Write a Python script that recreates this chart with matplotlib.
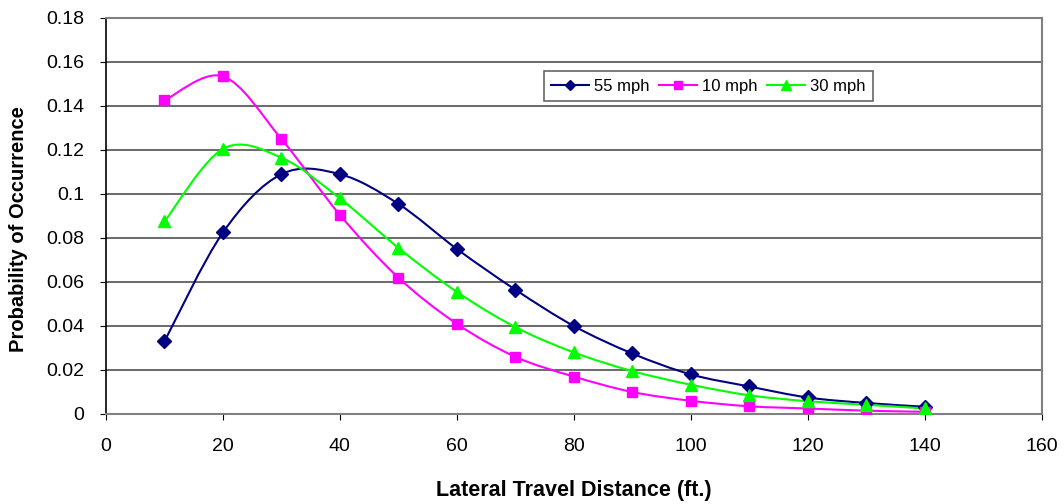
import numpy as np
import matplotlib.pyplot as plt
from matplotlib.path import Path
from matplotlib.patches import PathPatch

plt.rcParams['font.family'] = ['Liberation Sans', 'DejaVu Sans']

distance = [10, 20, 30, 40, 50, 60, 70, 80, 90, 100, 110, 120, 130, 140]
mph55 = [0.033, 0.0825, 0.109, 0.109, 0.0955, 0.075, 0.0565, 0.040, 0.0275,
         0.018, 0.0125, 0.0075, 0.005, 0.0033]
mph10 = [0.1425, 0.1535, 0.125, 0.0905, 0.062, 0.041, 0.026, 0.017, 0.010,
         0.006, 0.0035, 0.0025, 0.0015, 0.001]
mph30 = [0.0875, 0.1205, 0.1165, 0.098, 0.0755, 0.0555, 0.0395, 0.028,
         0.0195, 0.0133, 0.0085, 0.0058, 0.0042, 0.0025]


def smooth_path(x, y):
    # Excel-style smoothed line: cubic bezier through the points
    p = np.column_stack([x, y]).astype(float)
    n = len(p)
    verts = [p[0]]
    codes = [Path.MOVETO]
    for i in range(n - 1):
        p0 = p[i - 1] if i > 0 else p[i]
        p3 = p[i + 2] if i + 2 < n else p[i + 1]
        c1 = p[i] + (p[i + 1] - p0) / 6
        c2 = p[i + 1] - (p3 - p[i]) / 6
        verts += [c1, c2, p[i + 1]]
        codes += [Path.CURVE4] * 3
    return Path(verts, codes)


fig = plt.figure(figsize=(10.64, 5.04), dpi=100)
ax = fig.add_axes([0.0996, 0.1786, 0.8794, 0.7857])

series = [
    ('55 mph', mph55, '#000080', 'D', 7),
    ('10 mph', mph10, '#FF00FF', 's', 7.5),
    ('30 mph', mph30, '#00FF00', '^', 9),
]
for label, vals, color, marker, ms in series:
    ax.add_patch(PathPatch(smooth_path(distance, vals), facecolor='none',
                           edgecolor=color, lw=1.5, zorder=3))
    ax.plot(distance, vals, linestyle='none', marker=marker, ms=ms,
            color=color, zorder=4)
    ax.plot([], [], color=color, lw=1.5, marker=marker, ms=ms * 0.8,
            label=label)

ax.set_xlim(0, 160)
ax.set_ylim(0, 0.18)
ax.set_xticks(range(0, 161, 20))
ax.set_yticks(np.arange(0, 0.181, 0.02))
ax.set_yticklabels(['0', '0.02', '0.04', '0.06', '0.08', '0.1', '0.12',
                    '0.14', '0.16', '0.18'])
ax.grid(axis='y', color='#505050', lw=1.2)
ax.set_axisbelow(True)
ax.tick_params(direction='out', length=4.5, labelsize=14, color='black')
ax.tick_params(axis='x', pad=13)
ax.tick_params(axis='y', pad=11)

for side in ['top', 'right', 'bottom']:
    ax.spines[side].set_color('#808080')
    ax.spines[side].set_linewidth(1.5)
ax.spines['left'].set_color('black')
ax.spines['left'].set_linewidth(1.2)

ax.set_xlabel('Lateral Travel Distance (ft.)', fontsize=15.5,
              fontweight='bold', va='center')
ax.xaxis.set_label_coords(0.5, -0.192)
ax.set_ylabel('Probability of Occurrence', fontsize=14.5, fontweight='bold',
              va='center')
ax.yaxis.set_label_coords(-0.093, 0.467)

leg = ax.legend(loc='center', bbox_to_anchor=(0.644, 0.828), ncol=3,
                fontsize=12, frameon=True, fancybox=False,
                handlelength=2.3, handletextpad=0.3, columnspacing=0.55,
                borderpad=0.45)
leg.get_frame().set_edgecolor('#404040')
leg.get_frame().set_linewidth(1.2)

fig.savefig('out.png', dpi=100)
